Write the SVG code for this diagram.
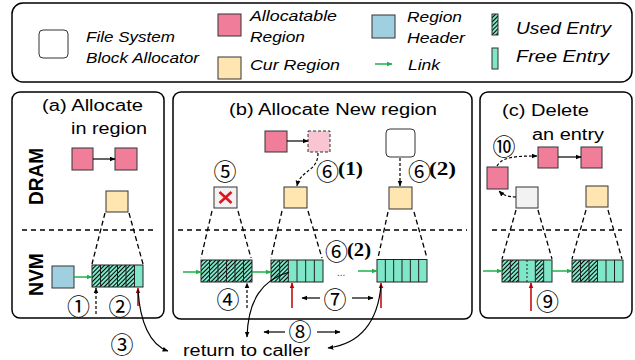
<svg xmlns="http://www.w3.org/2000/svg" width="635" height="360" viewBox="0 0 635 360">
<defs>
<pattern id="hatch" patternUnits="userSpaceOnUse" width="3" height="3" patternTransform="rotate(45)">
<rect width="3" height="3" fill="#80e6c8"/>
<line x1="0.5" y1="0" x2="0.5" y2="3" stroke="#000" stroke-width="1"/>
</pattern>
<marker id="ab" viewBox="0 0 10 10" refX="9" refY="5" markerWidth="6" markerHeight="6" markerUnits="userSpaceOnUse" orient="auto"><path d="M0,1 L10,5 L0,9 z" fill="#000"/></marker>
<marker id="ag" viewBox="0 0 10 10" refX="9" refY="5" markerWidth="6" markerHeight="6" markerUnits="userSpaceOnUse" orient="auto"><path d="M0,1 L10,5 L0,9 z" fill="#1fb04a"/></marker>
<marker id="ar" viewBox="0 0 10 10" refX="9" refY="5" markerWidth="6" markerHeight="6" markerUnits="userSpaceOnUse" orient="auto"><path d="M0,1 L10,5 L0,9 z" fill="#c00000"/></marker>
</defs>
<style>
.t{font-family:"Liberation Sans",Arial,sans-serif;fill:#000}
.it{font-style:italic;font-size:14px}
.ti{font-size:16px}
.lb{font-weight:bold;font-size:20px;text-anchor:middle}
.c{font-family:"Noto Sans CJK JP","DejaVu Sans",sans-serif;font-size:23px;text-anchor:middle;fill:#000}
.p{font-family:"Liberation Serif","Times New Roman",serif;font-weight:bold;font-size:18px;fill:#000}
.box{fill:#fff;stroke:#000;stroke-width:1.5}
.sq{stroke:#333;stroke-width:1}
.pink{fill:#f07e9b}
.lpink{fill:#f9c5d3;stroke:#333;stroke-width:1;stroke-dasharray:3,2}
.yel{fill:#ffe5b0}
.blue{fill:#a0d0e0}
.gray{fill:#f2f2f2}
.wh{fill:#fff}
.free{fill:#80e6c8}
.used{fill:url(#hatch)}
.cell{fill:none;stroke:#222;stroke-width:1}
.dash{fill:none;stroke:#000;stroke-width:1.3;stroke-dasharray:5,3}
.sep{fill:none;stroke:#000;stroke-width:1.3;stroke-dasharray:5,4}
.blk{fill:none;stroke:#000;stroke-width:1.2;marker-end:url(#ab)}
.dblk{fill:none;stroke:#000;stroke-width:1.2;stroke-dasharray:3,2;marker-end:url(#ab)}
.grn{fill:none;stroke:#1fb04a;stroke-width:1.5;marker-end:url(#ag)}
.red{fill:none;stroke:#c00000;stroke-width:1.5;marker-end:url(#ar)}
</style>

<!-- Legend -->
<g id="legend">
<rect x="12" y="3" width="620" height="79" rx="11" class="box"/>
<rect x="39" y="30" width="29" height="28" rx="4" class="wh sq"/>
<text class="t it" x="86" y="42" textLength="89" lengthAdjust="spacingAndGlyphs">File System</text>
<text class="t it" x="86" y="63" textLength="113" lengthAdjust="spacingAndGlyphs">Block Allocator</text>
<rect x="218" y="14" width="23" height="22" class="pink sq"/>
<text class="t it" x="250" y="21" textLength="87" lengthAdjust="spacingAndGlyphs">Allocatable</text>
<text class="t it" x="250" y="42" textLength="55" lengthAdjust="spacingAndGlyphs">Region</text>
<rect x="218" y="57" width="23" height="22" class="yel sq"/>
<text class="t it" x="250" y="70" textLength="90" lengthAdjust="spacingAndGlyphs">Cur Region</text>
<rect x="372" y="15" width="23" height="23" class="blue sq"/>
<text class="t it" x="407" y="22" textLength="55" lengthAdjust="spacingAndGlyphs">Region</text>
<text class="t it" x="407" y="43" textLength="58" lengthAdjust="spacingAndGlyphs">Header</text>
<line x1="375" y1="64" x2="392" y2="64" class="grn"/>
<text class="t it" x="408" y="70" textLength="32" lengthAdjust="spacingAndGlyphs">Link</text>
<rect x="492" y="14" width="6" height="21" class="used sq"/>
<text class="t" x="516" y="34" font-style="italic" font-size="16.5" textLength="95" lengthAdjust="spacingAndGlyphs">Used Entry</text>
<rect x="492" y="48" width="6" height="21" class="free sq"/>
<text class="t" x="516" y="62" font-style="italic" font-size="16.5" textLength="93" lengthAdjust="spacingAndGlyphs">Free Entry</text>
</g>

<!-- Panel (a) -->
<g id="panel-a">
<rect x="12" y="92" width="152" height="226" rx="8" class="box"/>
<text class="t ti" x="42" y="111" textLength="101" lengthAdjust="spacingAndGlyphs">(a) Allocate</text>
<text class="t ti" x="71" y="134" textLength="76" lengthAdjust="spacingAndGlyphs">in region</text>
<text class="t lb" transform="translate(43,176.5) rotate(-90)" textLength="57" lengthAdjust="spacingAndGlyphs">DRAM</text>
<text class="t lb" transform="translate(43,274.5) rotate(-90)" textLength="43" lengthAdjust="spacingAndGlyphs">NVM</text>
<line x1="22" y1="230" x2="156" y2="230" class="sep"/>
</g>
<g id="a-pink1"><rect x="72" y="148" width="21" height="22" class="pink sq"/></g>
<g id="a-pink2"><rect x="115" y="148" width="22" height="22" class="pink sq"/></g>
<g id="a-cur"><rect x="106" y="191" width="22" height="21" class="yel sq"/></g>
<g id="a-header"><rect x="52" y="266" width="22" height="22" class="blue sq"/></g>
<g id="a-bar">
<rect x="92" y="265" width="42.5" height="22" class="used"/>
<rect x="134.5" y="265" width="8.5" height="22" class="free"/>
<path class="cell" d="M100.5,265V287M109,265V287M117.5,265V287M126,265V287M134.5,265V287"/>
<rect x="92" y="265" width="51" height="22" class="cell"/>
</g>

<!-- Panel (b) -->
<g id="panel-b">
<rect x="173" y="92" width="299" height="227" rx="8" class="box"/>
<text class="t ti" x="229" y="115" textLength="208" lengthAdjust="spacingAndGlyphs">(b) Allocate New region</text>
<line x1="178" y1="230" x2="467" y2="230" class="sep"/>
</g>
<g id="b-pink"><rect x="265" y="131" width="22" height="21" class="pink sq"/></g>
<g id="b-newpink"><rect x="308" y="131" width="22" height="21" class="lpink"/></g>
<g id="b-fsba"><rect x="386" y="129" width="29" height="28" rx="4" class="wh sq"/></g>
<g id="b-old"><rect x="214" y="187" width="23" height="21" class="gray sq"/>
<path d="M219.5,192 L231.5,203 M231.5,192 L219.5,203" stroke="#e0141e" stroke-width="2.6" fill="none"/></g>
<g id="b-cur1"><rect x="284" y="187" width="23" height="21" class="yel sq"/></g>
<g id="b-cur2"><rect x="389" y="187" width="23" height="22" class="yel sq"/></g>
<g id="b-bar1">
<rect x="201" y="260" width="51" height="22" class="used"/>
<path class="cell" d="M209.5,260V282M218,260V282M226.5,260V282M235,260V282M243.5,260V282"/>
<rect x="201" y="260" width="51" height="22" class="cell"/>
</g>
<g id="b-bar2">
<rect x="271" y="260" width="17.33" height="22" class="used"/>
<rect x="288.33" y="260" width="34.67" height="22" class="free"/>
<path class="cell" d="M279.67,260V282M288.33,260V282M297,260V282M305.67,260V282M314.33,260V282"/>
<rect x="271" y="260" width="52" height="22" class="cell"/>
</g>
<g id="b-bar3">
<rect x="377" y="259.5" width="50" height="22.5" class="free"/>
<path class="cell" d="M385.33,259.5V282M393.67,259.5V282M402,259.5V282M410.33,259.5V282M418.67,259.5V282"/>
<rect x="377" y="259.5" width="50" height="22.5" class="cell"/>
</g>
<text x="337" y="276" font-family="Liberation Sans,Arial,sans-serif" font-size="10" fill="#444">...</text>

<!-- Panel (c) -->
<g id="panel-c">
<rect x="480" y="92" width="152" height="226" rx="8" class="box"/>
<text class="t ti" x="502" y="116" textLength="87" lengthAdjust="spacingAndGlyphs">(c) Delete</text>
<text class="t ti" x="532" y="140" textLength="72" lengthAdjust="spacingAndGlyphs">an entry</text>
<line x1="492" y1="230" x2="622" y2="230" class="sep"/>
</g>
<g id="c-pink1"><rect x="538" y="147" width="20" height="21" class="pink sq"/></g>
<g id="c-pink2"><rect x="581" y="147" width="21" height="21" class="pink sq"/></g>
<g id="c-pinkleft"><rect x="487" y="167" width="21" height="22" class="pink sq"/></g>
<g id="c-freed"><rect x="516" y="187" width="22" height="21" class="gray sq"/></g>
<g id="c-cur"><rect x="586" y="186" width="22" height="21" class="yel sq"/></g>
<g id="c-bar1">
<rect x="502" y="260" width="16.67" height="22" class="used"/>
<rect x="518.67" y="260" width="16.66" height="22" class="free"/>
<rect x="535.33" y="260" width="8.34" height="22" class="used"/>
<rect x="543.67" y="260" width="8.33" height="22" class="free"/>
<path class="cell" d="M510.33,260V282M518.67,260V282M535.33,260V282M543.67,260V282"/>
<path d="M527,260V282" stroke="#222" stroke-width="1" stroke-dasharray="2,2"/>
<rect x="502" y="260" width="50" height="22" class="cell"/>
</g>
<g id="c-bar2">
<rect x="572" y="260" width="25.5" height="22" class="used"/>
<rect x="597.5" y="260" width="25.5" height="22" class="free"/>
<path class="cell" d="M580.5,260V282M589,260V282M597.5,260V282M606,260V282M614.5,260V282"/>
<rect x="572" y="260" width="51" height="22" class="cell"/>
</g>

<!-- Labels -->
<g id="labels">
<text class="c" x="78.5" y="315">①</text>
<text class="c" x="120" y="315">②</text>
<text class="c" x="122" y="352.5">③</text>
<text class="c" x="228" y="307.5">④</text>
<text class="c" x="225" y="179.5">⑤</text>
<text class="c" x="327.5" y="179.5">⑥</text>
<text class="p" x="338" y="175" textLength="25" lengthAdjust="spacingAndGlyphs">(1)</text>
<text class="c" x="419.5" y="179.5">⑥</text>
<text class="p" x="429" y="175" textLength="27" lengthAdjust="spacingAndGlyphs">(2)</text>
<text class="c" x="336.5" y="259.5">⑥</text>
<text class="p" x="347" y="256" textLength="24" lengthAdjust="spacingAndGlyphs">(2)</text>
<text class="c" x="335" y="308">⑦</text>
<text class="c" x="300" y="340">⑧</text>
<text class="c" x="547.5" y="310">⑨</text>
<text class="c" x="504" y="155">⑩</text>
<text class="t" x="183" y="356" font-size="16" textLength="127" lengthAdjust="spacingAndGlyphs">return to caller</text>
</g>

<!-- Connectors -->
<g id="connectors">
<line x1="93" y1="159" x2="115" y2="159" class="blk"/>
<line x1="287" y1="141" x2="308" y2="141" class="blk"/>
<line x1="558" y1="157" x2="581" y2="157" class="blk"/>
<path d="M318,153 C318,172 300,170 297,186" class="dblk"/>
<line x1="400" y1="158" x2="400" y2="186" class="dblk"/>
<path d="M497,166 C502,157 515,156 537,156" class="dblk"/>
<path d="M516,197 C508,197 503,195 499,191" class="dblk"/>
<path class="dash" d="M105,213 L92,264 M129,213 L143,264"/>
<path class="dash" d="M212,211 L201,258 M238,211 L251,258"/>
<path class="dash" d="M282,211 L271,258 M308,211 L322,258"/>
<path class="dash" d="M388,212 L378,258 M414,212 L427,258"/>
<path class="dash" d="M516,210 L502,259 M538,210 L552,259"/>
<path class="dash" d="M586,210 L572,259 M608,210 L622,259"/>
<line x1="74" y1="277" x2="92" y2="277" class="grn"/>
<line x1="183" y1="272" x2="201" y2="272" class="grn"/>
<line x1="252" y1="272" x2="271" y2="272" class="grn"/>
<line x1="358" y1="271" x2="377" y2="271" class="grn"/>
<line x1="483" y1="271" x2="502" y2="271" class="grn"/>
<line x1="552" y1="271" x2="572" y2="271" class="grn"/>
<line x1="96" y1="314" x2="96" y2="288" class="dblk"/>
<line x1="247" y1="308" x2="247" y2="283" class="dblk"/>
<line x1="138" y1="306" x2="138" y2="288" class="red"/>
<line x1="292" y1="308" x2="292" y2="283" class="red"/>
<line x1="381" y1="308" x2="381" y2="283" class="red"/>
<line x1="531" y1="311" x2="531" y2="283" class="red"/>
<line x1="320" y1="298" x2="302" y2="298" class="blk"/>
<line x1="352" y1="298" x2="373" y2="298" class="blk"/>
<line x1="285" y1="332" x2="264" y2="332" class="blk"/>
<line x1="317" y1="332" x2="340" y2="332" class="blk"/>
<path d="M138,290 C140,322 150,345 168,351" class="blk"/>
<path d="M289,272 C262,280 248,300 247,337" class="blk"/>
<path d="M381,285 C378,322 360,344 328,348" class="blk"/>
</g>
</svg>
